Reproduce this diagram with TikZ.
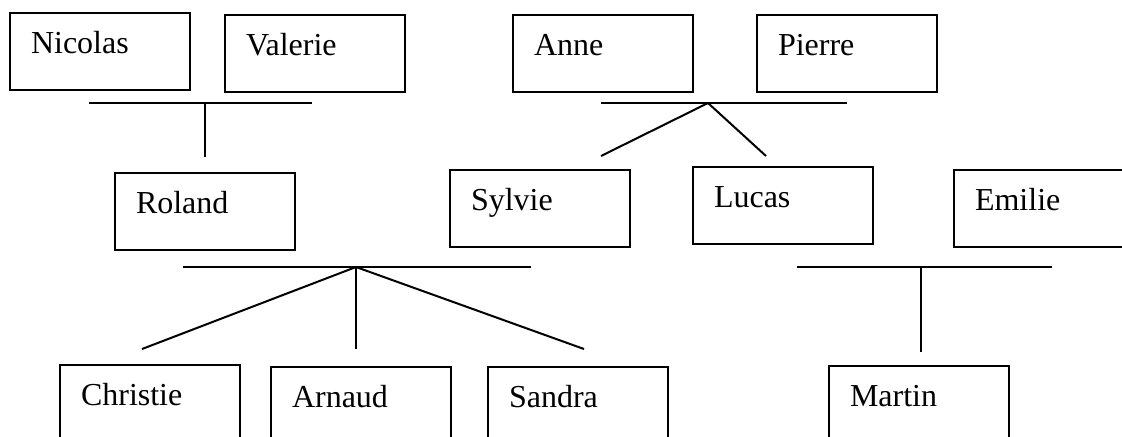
\documentclass[tikz,border=0pt]{standalone}
\usepackage{fontspec}
\setmainfont{Liberation Serif}
\usepackage{tikz}
\usetikzlibrary{positioning}

\begin{document}
\begin{tikzpicture}[
    x=0.5pt, y=-0.5pt,
    person/.style={rectangle, draw, line width=1pt, anchor=north west, align=left, text width=69pt, inner xsep=10.5pt, inner ysep=0pt, text height=20pt, text depth=18.5pt, font=\fontsize{16}{19}\selectfont},
    link/.style={line width=1pt}
]

\useasboundingbox (0,0) rectangle (1122,436);

% grandparents
\node[person] (nicolas) at (9,12) {Nicolas};
\node[person] (valerie) at (224,14) {Valerie};
\node[person] (anne) at (512,14) {Anne};
\node[person] (pierre) at (756,14) {Pierre};

% parents
\node[person] (roland) at (114,172) {Roland};
\node[person] (sylvie) at (449,169) {Sylvie};
\node[person] (lucas) at (692,166) {Lucas};
\node[person] (emilie) at (953,169) {Emilie};

% children
\node[person] (christie) at (59,364) {Christie};
\node[person] (arnaud) at (270,366) {Arnaud};
\node[person] (sandra) at (487,366) {Sandra};
\node[person] (martin) at (828,365) {Martin};

% marriage bars and descent lines
\coordinate (nvl) at (89,103);
\coordinate (nvr) at (312,103);
\coordinate (nv) at (205,103);
\coordinate (nvdown) at (205,157);
\draw[link] (nvl) -- (nvr);
\draw[link] (nv) -- (nvdown);

\coordinate (apl) at (601,103);
\coordinate (apr) at (847,103);
\coordinate (ap) at (708,103);
\coordinate (apsyl) at (601,156);
\coordinate (apluc) at (766,156);
\draw[link] (apl) -- (apr);
\draw[link] (ap) -- (apsyl);
\draw[link] (ap) -- (apluc);

\coordinate (rsl) at (183,267);
\coordinate (rsr) at (531,267);
\coordinate (rs) at (356,267);
\coordinate (rschr) at (142,349);
\coordinate (rsarn) at (356,349);
\coordinate (rssan) at (584,349);
\draw[link] (rsl) -- (rsr);
\draw[link] (rs) -- (rschr);
\draw[link] (rs) -- (rsarn);
\draw[link] (rs) -- (rssan);

\coordinate (lel) at (797,267);
\coordinate (ler) at (1052,267);
\coordinate (le) at (921,267);
\coordinate (lemar) at (921,352);
\draw[link] (lel) -- (ler);
\draw[link] (le) -- (lemar);

\end{tikzpicture}
\end{document}
